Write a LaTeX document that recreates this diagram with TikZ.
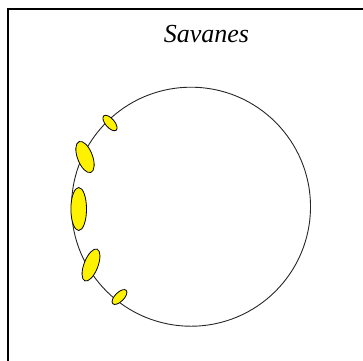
\documentclass[tikz,border=0pt]{standalone}
\usepackage{fontspec}
\setmainfont{Liberation Serif}
\begin{document}
\begin{tikzpicture}[x=1pt,y=-1pt,
  frameline/.style={line width=2pt,black},
  ring/.style={line width=0.9pt,black!85},
  blob/.style={fill=yellow,draw=black,line width=0.8pt}]
\useasboundingbox (0,0) rectangle (363,360);
\draw[frameline] (8,370) coordinate (fbl) -- (8,9) coordinate (ftl) -- (370,9) coordinate (ftr);
\node[font=\itshape\fontsize{26}{30}\selectfont,anchor=base] (title) at (206.5,42) {Savanes};
\node[ring,circle,minimum size=239pt,inner sep=0pt,draw] (c) at (191,206.7) {};
\draw[blob,rotate around={-49:(110,123)}] (110,123) ellipse [x radius=9.5,y radius=4.5];
\draw[blob,rotate around={-69:(85,157)}] (85,157) ellipse [x radius=16.5,y radius=7.5];
\draw[blob] (78.7,209) ellipse [x radius=7.8,y radius=21.5];
\draw[blob,rotate around={-111:(91,265)}] (91,265) ellipse [x radius=17,y radius=7];
\draw[blob,rotate around={-135:(119.5,297)}] (119.5,297) ellipse [x radius=9.5,y radius=4.5];
\end{tikzpicture}
\end{document}
